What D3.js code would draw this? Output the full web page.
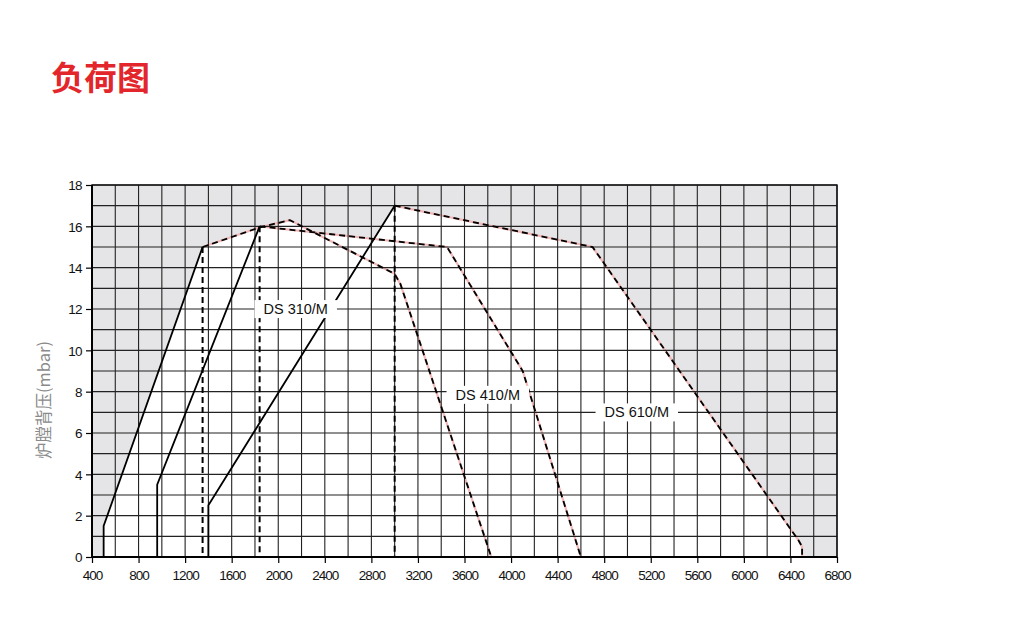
<!DOCTYPE html>
<html><head><meta charset="utf-8">
<script src="https://cdn.jsdelivr.net/npm/d3@7"></script>
<style>body{margin:0;background:#fff;}svg{display:block;}</style>
</head><body>
<svg id="c" width="1010" height="624"></svg>
<script>
const title = "负荷图";
const yLabel = "炉膛背压(mbar)";
const xTickValues = [400,800,1200,1600,2000,2400,2800,3200,3600,4000,4400,4800,5200,5600,6000,6400,6800];
const yTickValues = [0,2,4,6,8,10,12,14,16,18];

// DS 310/M
const ds310Solid = [[500,0],[500,1.5],[1350,15]];
const ds310Dashed = [[1350,15],[1840,15.95],[2100,16.3],[3000,13.7],[3050,13.2],[3830,0]];
const ds310Min = [[1350,15],[1350,0]];
// DS 410/M
const ds410Solid = [[960,0],[960,3.5],[1840,16]];
const ds410Dashed = [[1840,16],[3450,15],[4100,9],[4600,0]];
const ds410Min = [[1840,16],[1840,0]];
// DS 610/M
const ds610Solid = [[1400,0],[1400,2.5],[3000,17]];
const ds610Dashed = [[3000,17],[4700,15],[6470,0.8],[6500,0.5],[6500,0]];
const ds610Min = [[3000,17],[3000,0]];

const labels = [
  {text:"DS 310/M", x:2150, y:12},
  {text:"DS 410/M", x:3800, y:7.85},
  {text:"DS 610/M", x:5080, y:7}
];

const svg = d3.select("#c");
const L=92, R=837, T=185, B=557;
const x = d3.scaleLinear().domain([400,6800]).range([L,R]);
const y = d3.scaleLinear().domain([0,18]).range([B,T]);
const line = d3.line().x(d=>x(d[0])).y(d=>y(d[1]));

svg.append("text").attr("x",51).attr("y",90).text(title)
  .attr("font-family","'Noto Sans CJK SC'").attr("font-weight","bold")
  .attr("font-size",33).attr("fill","#e3262b");

// gray background
svg.append("rect").attr("x",L).attr("y",T).attr("width",R-L).attr("height",B-T).attr("fill","#e5e5e7");

// white areas (union)
const areas = [ds310Solid.concat(ds310Dashed.slice(1)), ds410Solid.concat(ds410Dashed.slice(1)), ds610Solid.concat(ds610Dashed.slice(1))];
areas.forEach(a=>{
  svg.append("path").attr("d", line(a)+"Z").attr("fill","#fff");
});
// pink outline under dashed
[ds310Dashed, ds410Dashed, ds610Dashed].forEach(a=>{
  svg.append("path").attr("d", line(a)).attr("fill","none").attr("stroke","#f2b8b8").attr("stroke-width",2.2);
});

// grid
const g = svg.append("g");
d3.range(400,6801,200).forEach(v=>{
  g.append("line").attr("x1",x(v)).attr("x2",x(v)).attr("y1",T).attr("y2",B)
   .attr("stroke","#222").attr("stroke-width",1.1);
});
d3.range(0,19,1).forEach(v=>{
  g.append("line").attr("x1",L).attr("x2",R).attr("y1",y(v)).attr("y2",y(v))
   .attr("stroke","#222").attr("stroke-width",1.1);
});
svg.append("rect").attr("x",L).attr("y",T).attr("width",R-L).attr("height",B-T)
  .attr("fill","none").attr("stroke","#111").attr("stroke-width",1.4);
svg.append("line").attr("x1",L).attr("x2",R).attr("y1",B).attr("y2",B).attr("stroke","#000").attr("stroke-width",2);
svg.append("line").attr("x1",L).attr("x2",L).attr("y1",T).attr("y2",B).attr("stroke","#000").attr("stroke-width",2);

// axes
const xAxis = svg.append("g").attr("transform",`translate(0,${B})`)
  .call(d3.axisBottom(x).tickValues(xTickValues).tickSize(6).tickSizeOuter(0).tickFormat(d3.format("d")));
const yAxis = svg.append("g").attr("transform",`translate(${L},0)`)
  .call(d3.axisLeft(y).tickValues(yTickValues).tickSize(6).tickSizeOuter(0));
[xAxis,yAxis].forEach(a=>{
  a.select(".domain").remove();
  a.selectAll("line").attr("stroke","#000").attr("stroke-width",1.2);
  a.selectAll("text").attr("font-family","'Liberation Sans', Arial").attr("fill","#111");
});
xAxis.selectAll("text").attr("font-size",13.5).attr("letter-spacing","-1px").attr("dy","1.0em");
yAxis.selectAll("text").attr("font-size",13.5).attr("letter-spacing","-0.6px").attr("dx","-1").attr("dy","0.35em");

svg.append("text").attr("transform","translate(50,400) rotate(-90)").attr("text-anchor","middle")
  .attr("font-family","'Noto Sans CJK SC'").attr("font-size",16.5).attr("fill","#8a8a8a").text(yLabel);

// curves
const curves = svg.append("g").attr("fill","none").attr("stroke","#000").attr("stroke-width",1.8);
[ds310Solid, ds410Solid, ds610Solid].forEach(a=>curves.append("path").attr("d",line(a)));
[ds310Dashed, ds410Dashed, ds610Dashed].forEach(a=>curves.append("path").attr("d",line(a)).attr("stroke-dasharray","6,4"));
[ds310Min, ds410Min, ds610Min].forEach(a=>curves.append("path").attr("d",line(a)).attr("stroke-dasharray","6,4").attr("stroke-width",2));

// labels
labels.forEach(l=>{
  const t = svg.append("text").attr("x",x(l.x)).attr("y",y(l.y)).attr("text-anchor","middle").attr("dy","0.35em")
    .attr("font-family","'Liberation Sans', Arial").attr("font-size",14.5).attr("fill","#111").text(l.text);
  const bb = t.node().getBBox();
  svg.insert("rect", function(){return t.node();}).attr("x",bb.x-9).attr("y",bb.y-1).attr("width",bb.width+18).attr("height",bb.height+2).attr("fill","#fff");
});
</script>
</body></html>
